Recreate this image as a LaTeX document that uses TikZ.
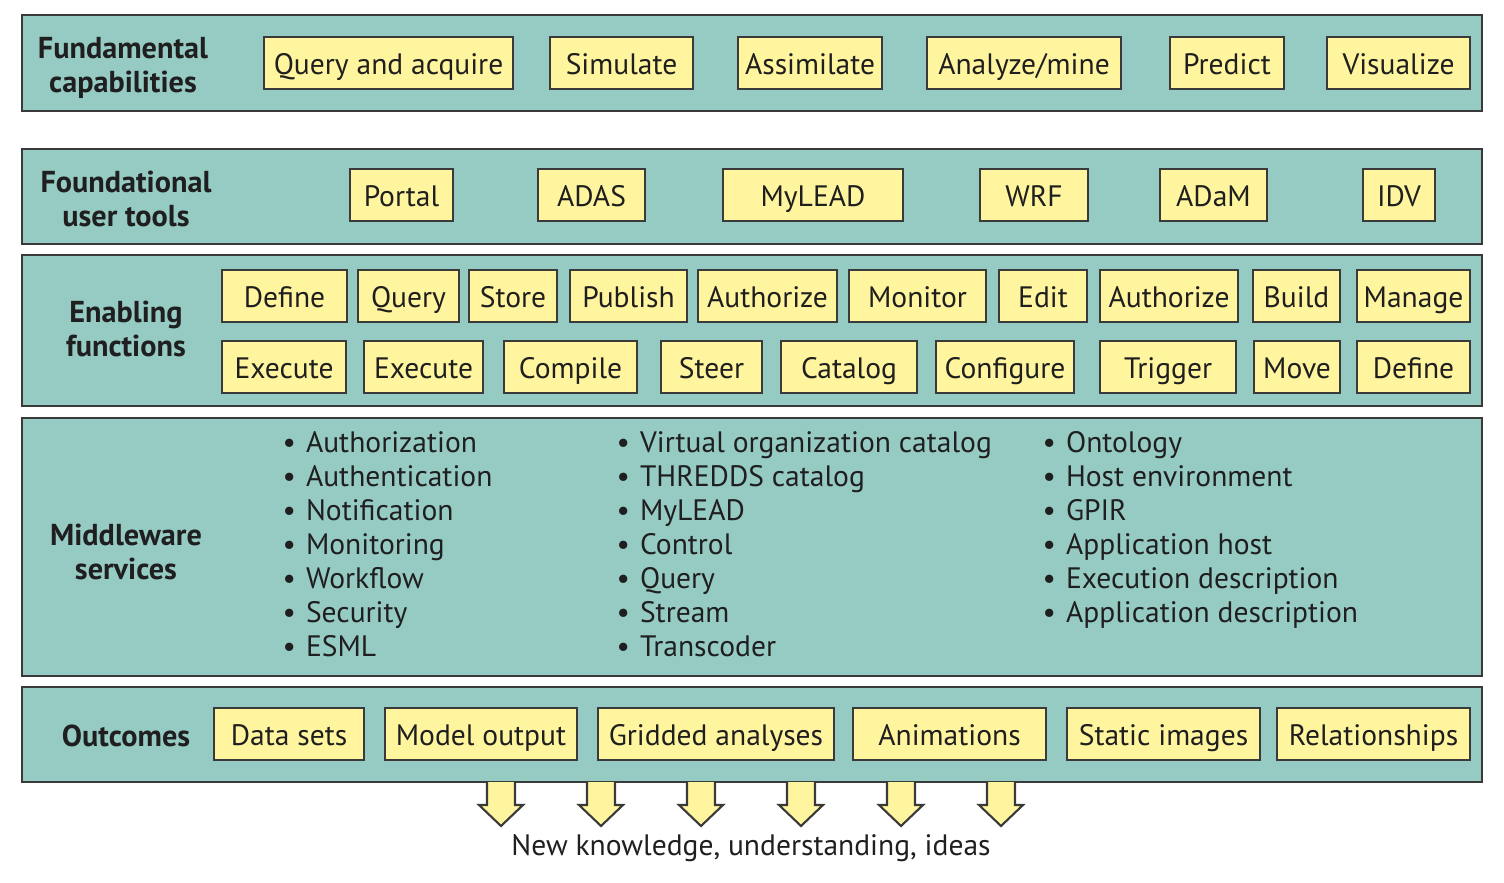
\documentclass[tikz,border=0pt]{standalone}
\usepackage{fontspec}
\setmainfont{PT Sans}
\usepackage{tikz}
\usetikzlibrary{positioning}
\definecolor{bandteal}{HTML}{96CBC3}
\definecolor{boxyellow}{HTML}{FFF59E}
\definecolor{edgegray}{HTML}{3A3A3A}

\begin{document}
\begin{tikzpicture}[x=0.01cm, y=-0.01cm,
  every node/.style={font=\fontsize{8.4}{9.7}\selectfont, text=black!88},
  band/.style={draw=edgegray, fill=bandteal, line width=0.6pt},
  fbox/.style={draw=edgegray, fill=boxyellow, line width=0.6pt, inner sep=0pt,
               minimum height=0.52cm, text height=0.27cm, text depth=0.05cm},
  blabel/.style={font=\fontsize{8.6}{9.7}\selectfont\bfseries, align=center},
  itm/.style={anchor=base west, inner sep=0pt},
  bigarr/.style={draw=edgegray, fill=boxyellow, line width=0.6pt, line join=miter}
]
\useasboundingbox (0,0) rectangle (1504,882);

% layers
\draw[band] (22,15)  rectangle (1482,111);
\draw[band] (22,149) rectangle (1482,244);
\draw[band] (22,255) rectangle (1482,406);
\draw[band] (22,418) rectangle (1482,676);
\draw[band] (22,687) rectangle (1482,782);

% layer titles
\node[blabel] (caplbl) at (123,68)  {Fundamental\\capabilities};
\node[blabel] (toollbl) at (126,199) {Foundational\\user tools};
\node[blabel] (funclbl) at (126,329) {Enabling\\functions};
\node[blabel] (mwlbl) at (126,552)  {Middleware\\services};
\node[blabel] (outlbl) at (126,736) {Outcomes};

% fundamental capabilities
\foreach \nm/\xa/\xb/\txt in {qa/264/513/Query and acquire, sim/550/693/Simulate,
    assim/738/882/Assimilate, ana/927/1121/{Analyze/mine}, pred/1170/1284/Predict,
    vis/1327/1470/Visualize}
  \node[fbox, minimum width={(\xb-\xa)*0.01cm}] (\nm) at ({(\xa+\xb)/2},63) {\txt};

% foundational user tools
\foreach \nm/\xa/\xb/\txt in {portal/350/453/Portal, adas/538/645/ADAS,
    mylead/723/903/MyLEAD, wrf/980/1088/WRF, adam/1160/1267/ADaM, idv/1363/1435/IDV}
  \node[fbox, minimum width={(\xb-\xa)*0.01cm}] (\nm) at ({(\xa+\xb)/2},195) {\txt};

% enabling functions
\foreach \nm/\xa/\xb/\txt in {fa1/222/347/Define, fa2/358/459/Query, fa3/469/557/Store,
    fa4/570/687/Publish, fa5/698/837/Authorize, fa6/849/986/Monitor, fa7/999/1087/Edit,
    fa8/1100/1238/Authorize, fa9/1253/1340/Build, fa10/1357/1470/Manage}
  \node[fbox, minimum width={(\xb-\xa)*0.01cm}] (\nm) at ({(\xa+\xb)/2},296) {\txt};
\foreach \nm/\xa/\xb/\txt in {fb1/222/346/Execute, fb2/364/483/Execute, fb3/504/637/Compile,
    fb4/661/762/Steer, fb5/781/917/Catalog, fb6/936/1074/Configure, fb7/1100/1236/Trigger,
    fb8/1254/1340/Move, fb9/1357/1470/Define}
  \node[fbox, minimum width={(\xb-\xa)*0.01cm}] (\nm) at ({(\xa+\xb)/2},367) {\txt};

% middleware services
\foreach \t [count=\i] in {Authorization, Authentication, Notification, Monitoring,
    Workflow, Security, ESML}
  \node[itm] (mwa\i) at (282,{452+34*(\i-1)}) {\textbullet\hspace{0.1cm}\t};
\foreach \t [count=\i] in {Virtual organization catalog, THREDDS catalog, MyLEAD,
    Control, Query, Stream, Transcoder}
  \node[itm] (mwb\i) at (616,{452+34*(\i-1)}) {\textbullet\hspace{0.1cm}\t};
\foreach \t [count=\i] in {Ontology, Host environment, GPIR, Application host,
    Execution description, Application description}
  \node[itm] (mwc\i) at (1042,{452+34*(\i-1)}) {\textbullet\hspace{0.1cm}\t};

% outcomes
\foreach \nm/\xa/\xb/\txt in {dsets/214/364/Data sets, mout/385/577/Model output,
    grid/598/834/Gridded analyses, anim/853/1046/Animations, stat/1067/1260/Static images,
    rel/1277/1470/Relationships}
  \node[fbox, minimum width={(\xb-\xa)*0.01cm}] (\nm) at ({(\xa+\xb)/2},734) {\txt};

% result
\node (result) at (751,848) {New knowledge, understanding, ideas};
\foreach \x in {501,601,...,1001}
  \draw[bigarr] (\x-14,782) -- (\x-14,805) -- (\x-22,805) -- (\x,826)
                -- (\x+22,805) -- (\x+14,805) -- (\x+14,782);
\end{tikzpicture}
\end{document}
